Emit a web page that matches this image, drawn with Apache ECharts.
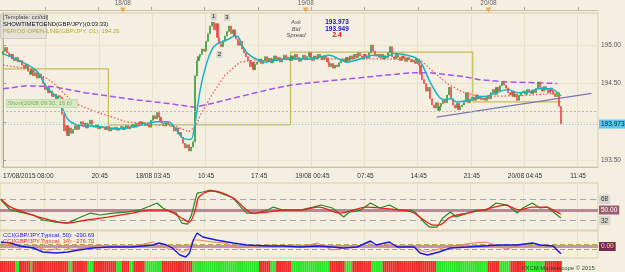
<!DOCTYPE html>
<html><head><meta charset="utf-8">
<script src="https://cdn.jsdelivr.net/npm/echarts@6/dist/echarts.min.js"></script>
<style>html,body{margin:0;padding:0;background:#f4efe1;}#c{width:625px;height:272px;}</style>
</head><body><div id="c"></div>
<script>
// ---------- data ----------
const firstOpen = 194.88;
const closes = [
194.92,194.97,194.90,194.85,194.88,194.82,194.80,194.84,194.78,194.80,194.74,
194.70,194.75,194.66,194.62,194.68,194.60,194.64,194.57,194.62,194.58,
194.50,194.42,194.45,194.38,
194.40,194.33,194.36,194.30,194.34,194.32,
194.10,193.88,193.95,193.82,
193.92,193.85,193.90,
193.95,193.90,193.96,194.00,193.94,193.98,193.92,193.97,194.02,193.95,193.93,193.96,193.91,193.94,193.92,
193.93,193.90,193.94,193.88,193.92,193.90,193.93,193.89,193.91,193.94,193.90,193.92,193.95,193.91,
193.94,193.97,193.93,193.98,193.95,194.00,193.96,193.99,193.95,193.97,193.93,
194.02,194.08,194.04,194.12,194.06,194.00,
193.98,193.95,193.99,193.96,193.97,
193.94,193.88,193.92,193.84,193.86,193.80,
193.72,193.66,193.70,193.62,193.67,193.74,
194.60,194.80,194.85,
194.88,194.95,194.92,195.05,
195.15,195.25,195.30,195.20,195.28,
195.10,195.02,194.98,195.05,195.12,
195.18,195.25,195.15,195.20,195.12,
195.08,195.00,195.05,194.95,194.90,194.85,
194.80,194.72,194.78,194.68,194.75,
194.78,194.82,194.76,194.80,194.85,194.79,194.83,194.77,194.81,194.86,194.80,194.84,194.78,194.82,194.87,194.81,194.84,
194.80,194.86,194.82,194.88,194.84,194.79,194.83,194.87,194.81,194.85,194.90,194.84,194.80,194.86,194.82,194.88,194.85,194.81,194.86,194.83,
194.78,194.72,194.76,194.70,194.74,194.72,194.77,194.80,
194.82,194.78,194.84,194.80,194.86,194.82,194.88,194.84,194.90,194.86,194.82,194.88,194.85,194.83,
194.90,195.00,194.92,194.86,194.88,
194.84,194.88,194.82,194.86,194.84,194.90,
194.98,
194.85,194.82,194.88,194.84,194.80,194.86,194.83,194.79,194.84,194.81,194.78,
194.80,194.76,194.82,194.74,
194.62,194.55,194.50,
194.40,194.45,194.30,194.22,194.18,194.25,194.15,194.20,
194.24,194.28,194.25,194.35,194.45,194.30,
194.22,194.18,194.24,194.16,194.20,
194.22,194.26,194.38,194.25,194.28,
194.32,194.28,194.35,194.30,194.33,194.29,
194.31,194.28,194.33,194.30,
194.38,194.42,194.36,194.45,194.40,194.47,
194.52,194.48,194.44,
194.38,194.35,194.40,194.33,194.36,194.28,194.34,
194.38,194.40,194.36,194.42,194.39,194.37,194.41,194.38,194.43,
194.52,
194.45,194.40,194.46,194.42,194.38,194.44,194.40,194.36,
194.33,194.38,
194.20,
193.973
];
const emaFast = [[0,194.89],[17,194.68],[23,194.45],[29,194.30],[34,194.04],[39,193.96],[49,193.94],[60,193.91],[70,193.94],[81,194.00],[87,194.00],[91,193.91],[95,193.78],[99,193.77],[101,193.96],[104,194.43],[107,194.74],[110,194.94],[113,195.02],[119,195.08],[122,195.12],[124,195.11],[126,195.00],[129,194.89],[134,194.81],[138,194.78],[145,194.81],[152,194.82],[162,194.82],[172,194.87],[177,194.82],[181,194.78],[187,194.81],[195,194.87],[202,194.85],[206,194.89],[216,194.85],[220,194.78],[225,194.52],[229,194.35],[232,194.29],[236,194.30],[239,194.26],[245,194.28],[251,194.33],[254,194.33],[259,194.37],[266,194.42],[271,194.38],[277,194.39],[282,194.43],[289,194.43],[292,194.38],[294,194.34]];
const maSlow = [[0,194.74],[15,194.69],[26,194.52],[35,194.30],[40,194.22],[49,194.13],[65,194.00],[81,193.96],[91,193.94],[98,193.87],[102,193.96],[104,194.09],[110,194.35],[117,194.61],[125,194.78],[134,194.81],[152,194.82],[178,194.82],[199,194.82],[220,194.81],[225,194.69],[234,194.50],[242,194.39],[251,194.33],[272,194.34],[291,194.37]];
const ma200 = [[0,194.43],[12,194.47],[26,194.46],[43,194.38],[69,194.29],[87,194.24],[101,194.19],[110,194.24],[125,194.33],[140,194.42],[152,194.48],[166,194.52],[202,194.61],[216,194.64],[225,194.64],[243,194.59],[251,194.55],[266,194.52],[292,194.50]];
const dayStarts = [-0.5, 55.5, 151.5, 247.5];
const dayOpens = [194.69, 193.96, 194.91, 194.26];
const lastBar = 294;
const rsiFast = [[0,66.8],[5,50],[10,46.6],[17,41.6],[22,33.2],[29,29.8],[35,28.1],[42,38.2],[47,44.9],[52,41.6],[59,44.9],[66,46.6],[73,50],[77,55],[82,61.8],[85,53.4],[89,46.6],[92,44.9],[95,28.1],[98,26.4],[100,41.6],[103,78.6],[106,80.3],[110,83.7],[115,78.6],[122,70.2],[126,55],[129,44.9],[134,44.9],[140,50],[143,55],[148,50],[153,50],[157,50],[164,55],[168,58.4],[174,53.4],[180,38.2],[183,46.6],[189,50],[194,61.8],[199,53.4],[204,58.4],[209,50],[215,50],[218,44.9],[222,29.8],[225,21.4],[229,21.4],[232,36.5],[236,46.6],[239,38.2],[245,44.9],[250,50],[255,50],[260,61.8],[266,58.4],[271,44.9],[274,53.4],[279,61.8],[283,53.4],[287,55],[290,46.6],[294,36.5]];
const rsiSlow = [[0,68.5],[5,55],[12,46.6],[22,36.5],[35,28.1],[45,33.2],[56,38.2],[69,44.9],[78,50],[87,50],[94,38.2],[99,29.8],[102,50],[104,71.9],[110,82],[115,80.3],[122,70.2],[129,50],[132,44.9],[140,46.6],[148,50],[157,50],[167,55],[178,44.9],[192,55],[209,50],[216,46.6],[222,33.2],[227,24.7],[230,24.7],[236,38.2],[245,44.9],[253,50],[265,58.4],[272,50],[279,55],[286,55],[292,46.6],[294,43]];
const rsiLevels = [68, 50, 32];
const cci50 = [[0,180],[5,140],[10,20],[17,-60],[22,-220],[29,-260],[35,-220],[41,-140],[48,-60],[57,-20],[69,-20],[80,60],[83,140],[87,60],[90,-60],[94,-340],[97,-420],[99,-260],[101,260],[103,540],[106,380],[113,260],[122,140],[129,60],[140,20],[148,20],[157,-20],[166,20],[174,-20],[180,-60],[187,-20],[194,220],[197,60],[204,180],[208,-20],[213,-20],[217,-20],[220,-260],[224,-340],[230,-220],[236,-60],[245,-20],[253,20],[262,60],[271,60],[279,140],[283,60],[290,20],[292,-140],[294,-290]];
const cci14 = [[0,140],[3,60],[6,-20],[10,-60],[14,-20],[20,-60],[24,-140],[27,-140],[31,-20],[35,-60],[38,-140],[43,-60],[48,-20],[52,60],[57,-60],[61,20],[66,-60],[69,-20],[73,60],[77,140],[80,180],[83,20],[87,-60],[92,-60],[95,-220],[98,-140],[101,260],[104,260],[111,180],[118,140],[124,-60],[131,-20],[140,60],[146,20],[153,60],[160,20],[166,140],[174,-140],[180,-60],[188,20],[195,180],[199,-20],[204,100],[209,-60],[216,20],[220,-140],[223,-220],[230,-100],[236,20],[241,60],[248,140],[255,180],[258,100],[265,-100],[272,20],[279,140],[286,20],[291,-20],[294,-276]];
const cciLevels = [100, 0, -100];
const stripRuns = [['r',8],['g',2],['r',6],['g',1],['r',9],['r',10],['g',2],['r',8],['g',3],['r',12],['g',3],['r',4],['g',2],['r',6],['g',9],['r',16],['g',35],['r',6],['g',3],['r',8],['g',20],['r',8],['g',4],['r',10],['g',6],['r',28],['g',27],['r',6],['g',6],['r',8],['g',10],['r',9]];
const timeTicks = [[0,'17/08/2015 08:00'],[51,'20:45'],[79,'18/08 03:45'],[107,'10:45'],[135,'17:45'],[163,'19/08 00:45'],[191,'07:45'],[219,'14:45'],[247,'21:45'],[275,'20/08 04:45'],[303,'11:45']];
const dateTicks = [[64,'18/08'],[160,'19/08'],[256,'20/08']];
const priceTicks = [193.5, 194.0, 194.5, 195.0];
const priceLabels = [193.5, 194.5, 195.0];
const waveMarks = [['1',111,195.37],['2',114,194.88],['3',118,195.36]];
const trendLine = [[228.5,194.06],[310,194.37]];
const pendingLevel = 194.14;
const bidLevel = 193.973;
const quote = {ask:'193.973', bid:'193.949', spread:'2.4'};

// ---------- build ----------
const N = 314;
const cats = Array.from({length:N},(_,i)=>String(i));
const ohlc = closes.map((c,i)=>{const o=i?closes[i-1]:firstOpen;return [o,c,Math.min(o,c),Math.max(o,c)];});
const labelMap = {}; timeTicks.forEach(([i,t])=>labelMap[i]=t);
const isMajor = i => i>=23 && (i-23)%28===0;
const RED='#f02a2a', GREEN='#2ae62a';
const stripData=[]; stripRuns.forEach(([c,n])=>{for(let k=0;k<n;k++)stripData.push({value:1,itemStyle:{color:c==='r'?RED:GREEN}});});
const stepData = dayStarts.map((s,k)=>[s,dayOpens[k]]).concat([[lastBar,dayOpens[dayOpens.length-1]]]);
const F = 'Liberation Sans';
const FS = '5.9px ';
const splitCat = (g)=>({gridIndex:g,type:'category',data:cats,axisLine:{show:false},axisTick:{show:false},axisLabel:{show:false},splitLine:{show:true,interval:(i)=>isMajor(i),lineStyle:{color:'#e9e2cb'}}});
const hidVal = (g)=>({gridIndex:g,type:'value',min:-0.5,max:313.5,show:false});

const option = {
  animation:false,
  backgroundColor:'#f4efe1',
  textStyle:{fontFamily:F},
  grid:[
    {left:0,right:27,top:0,height:10,show:false},
    {left:0,right:27,top:13,height:154,show:true,borderColor:'#d8cfa6',borderWidth:1},
    {left:0,right:27,top:183,height:47,show:true,borderColor:'#d8cfa6',borderWidth:1},
    {left:0,right:27,top:231,height:27,show:true,borderColor:'#d8cfa6',borderWidth:1},
    {left:0,right:27,top:261,height:11,show:false}
  ],
  xAxis:[
    {gridIndex:0,type:'category',data:cats,axisLine:{lineStyle:{color:'#c9c1a6'}},axisTick:{show:true,inside:true,length:3,alignWithLabel:true,interval:(i)=>isMajor(i),lineStyle:{color:'#b0a890'}},axisLabel:{show:false}},
    {gridIndex:1,type:'category',data:cats,axisLine:{show:true,lineStyle:{color:'#c9c1a6'}},
      axisTick:{alignWithLabel:true,interval:(i)=>isMajor(i),length:4,lineStyle:{color:'#9a9a9a'}},
      axisLabel:{interval:(i)=>labelMap[i]!==undefined,formatter:(v)=>labelMap[v]||'',fontSize:6.5,color:'#333',margin:6,alignMinLabel:'left'},
      splitLine:{show:true,interval:(i)=>isMajor(i),lineStyle:{color:'#e9e2cb'}}},
    {gridIndex:1,type:'category',data:cats,axisLine:{show:false},axisTick:{alignWithLabel:true,interval:(i)=>i%7===2,length:2,lineStyle:{color:'#9a9a9a'}},axisLabel:{show:false}},
    hidVal(1), hidVal(2), splitCat(2), hidVal(3), splitCat(3),
    {gridIndex:4,type:'category',data:cats,show:false}
  ],
  yAxis:[
    {gridIndex:0,type:'value',min:0,max:1,show:false},
    {gridIndex:1,type:'value',position:'right',min:193.41,max:195.42,
      axisLine:{show:true,lineStyle:{color:'#a8a8a8'}},
      axisTick:{show:true,customValues:priceTicks,length:3,lineStyle:{color:'#999'}},
      axisLabel:{customValues:priceLabels,formatter:(v)=>v.toFixed(2),fontSize:6.5,color:'#555',margin:3},
      splitLine:{show:true,lineStyle:{color:'#ebe4cd'}}},
    {gridIndex:2,type:'value',position:'right',min:16.4,max:95.5,show:false},
    {gridIndex:3,type:'value',position:'right',min:-460,max:620,show:false},
    {gridIndex:4,type:'value',min:0,max:1,show:false}
  ],
  series:[
    {type:'scatter',xAxisIndex:0,yAxisIndex:0,data:dateTicks.map(([i,t])=>({value:[i,0],name:t})),symbol:'triangle',symbolRotate:180,symbolSize:[6,5],itemStyle:{color:'#f0a030'},label:{show:true,position:'top',distance:1,formatter:'{b}',fontSize:6.5,color:'#444'}},
    {type:'line',xAxisIndex:3,yAxisIndex:1,data:stepData,step:'end',symbol:'none',lineStyle:{color:'#c5bc55',width:1.2},z:2},
    {type:'line',xAxisIndex:3,yAxisIndex:1,data:ma200,symbol:'none',lineStyle:{color:'#a454f0',width:1.5,type:[6,3]},z:2},
    {type:'line',xAxisIndex:3,yAxisIndex:1,data:maSlow,symbol:'none',lineStyle:{color:'#f04c4c',width:1.2,type:[1.5,2]},z:2},
    {type:'candlestick',xAxisIndex:1,yAxisIndex:1,data:ohlc,barWidth:1.6,z:3,
      itemStyle:{color:'#3c9c3c',color0:'#f04848',borderColor:'#3c9c3c',borderColor0:'#f04848',borderWidth:0.7},
      markLine:{silent:true,symbol:'none',data:[
        {yAxis:pendingLevel,lineStyle:{type:[2,2],color:'#bfb7a2',width:1},label:{show:false}},
        {yAxis:bidLevel,lineStyle:{type:[1,2],color:'#80c8e4',width:1},label:{show:true,position:'end',distance:1,formatter:'193.973',backgroundColor:'#5cc6f2',color:'#1a1a1a',fontSize:6.5,padding:[1,2]}}
      ]},
      markPoint:{symbol:'rect',symbolSize:[6,7],itemStyle:{color:'#d6d4cc'},label:{show:true,fontSize:6,color:'#222',formatter:'{b}'},
        data:waveMarks.map(([t,i,p])=>({name:t,coord:[String(i),p]})).concat([{name:'',coord:['292',194.37],symbol:'triangle',symbolSize:5,itemStyle:{color:'#5cc030'},label:{show:false}}])}},
    {type:'line',xAxisIndex:3,yAxisIndex:1,data:emaFast,symbol:'none',smooth:0.3,lineStyle:{color:'#18b4c4',width:1.5},z:4},
    {type:'line',xAxisIndex:3,yAxisIndex:1,data:trendLine,symbol:'none',lineStyle:{color:'#7878b4',width:1.2},z:4},
    {type:'line',xAxisIndex:4,yAxisIndex:2,data:rsiFast,symbol:'none',lineStyle:{color:'#228a22',width:1.2},z:4},
    {type:'line',xAxisIndex:4,yAxisIndex:2,data:rsiSlow,symbol:'none',smooth:0.3,lineStyle:{color:'#f01c1c',width:1.3},z:5,
      markLine:{silent:true,symbol:'none',z:2,data:[
        {yAxis:rsiLevels[0],lineStyle:{type:[6,4],color:'#a6a6a6',width:1},label:{position:'end',distance:1,formatter:'68',fontSize:6.5,color:'#333',backgroundColor:'#d8d6d0',padding:[1,2]}},
        {yAxis:rsiLevels[1],lineStyle:{type:'solid',color:'#b88898',width:3},label:{position:'end',distance:1,formatter:'50.00',fontSize:6.5,color:'#fff',backgroundColor:'#9c5c74',padding:[1,2]}},
        {yAxis:rsiLevels[2],lineStyle:{type:[6,4],color:'#a6a6a6',width:1},label:{position:'end',distance:1,formatter:'32',fontSize:6.5,color:'#333',backgroundColor:'#d8d6d0',padding:[1,2]}}
      ]}},
    {type:'line',xAxisIndex:6,yAxisIndex:3,data:cci14,symbol:'none',lineStyle:{color:'#f07a6a',width:1},z:4,
      markLine:{silent:true,symbol:'none',z:2,data:[
        {yAxis:cciLevels[0],lineStyle:{type:[5,3],color:'#b4a84a',width:1},label:{show:false}},
        {yAxis:cciLevels[1],lineStyle:{type:'solid',color:'#c098a8',width:3},label:{position:'end',distance:1,formatter:'0.00',fontSize:6.5,color:'#f4e060',backgroundColor:'#7a2858',padding:[1,2]}},
        {yAxis:cciLevels[2],lineStyle:{type:[5,3],color:'#b4a84a',width:1},label:{show:false}}
      ]}},
    {type:'line',xAxisIndex:6,yAxisIndex:3,data:cci50,symbol:'none',lineStyle:{color:'#1a1ae6',width:1.4},z:5},
    {type:'bar',xAxisIndex:8,yAxisIndex:4,data:stripData,barCategoryGap:'0%',barWidth:'100%'}
  ],
  graphic:[
    {type:'rect',left:0,top:14,shape:{width:46,height:24},style:{fill:'rgba(222,220,214,0.75)',stroke:'#cfcbc0'},z:10},
    {type:'text',left:3,top:14,style:{text:'[Template: cci/tdi]',font:FS+F,fill:'#404040'},z:11},
    {type:'text',left:3,top:21,style:{text:'SHOWTIMETOEND(GBP/JPY)(0:03:33)',font:FS+F,fill:'#111'},z:11},
    {type:'text',left:3,top:28,style:{text:'PERIOD-OPEN-LINE(GBP/JPY, D1): 194.26',font:FS+F,fill:'#b5ad3a'},z:11},
    {type:'text',x:296,y:19,style:{text:'Ask',font:'italic '+FS+F,fill:'#505050',textAlign:'center'},z:11},
    {type:'text',x:296,y:26,style:{text:'Bid',font:'italic '+FS+F,fill:'#505050',textAlign:'center'},z:11},
    {type:'text',x:296,y:32,style:{text:'Spread',font:'italic '+FS+F,fill:'#505050',textAlign:'center'},z:11},
    {type:'text',x:337,y:19,style:{text:quote.ask,font:'bold 6.5px '+F,fill:'#1414d0',textAlign:'center'},z:11},
    {type:'text',x:337,y:26,style:{text:quote.bid,font:'bold 6.5px '+F,fill:'#1414d0',textAlign:'center'},z:11},
    {type:'text',x:337,y:32,style:{text:quote.spread,font:'bold 6.5px '+F,fill:'#e01010',textAlign:'center'},z:11},
    {type:'rect',left:6,top:99,shape:{width:71,height:8},style:{fill:'#d6eac0',stroke:'#c8e0b0'},z:10},
    {type:'text',left:8,top:100,style:{text:'Short(20/08 09:30, 16.6)',font:FS+F,fill:'#8aa26e'},z:11},
    {type:'text',left:3,top:232,style:{text:'CCI(GBP/JPY,Typical, 50): -290.69',font:FS+F,fill:'#1a1ae6'},z:11},
    {type:'text',left:3,top:238,style:{text:'CCI(GBP/JPY,Typical, 14): -276.70',font:FS+F,fill:'#e83030'},z:11},
    {type:'text',left:522,top:265,style:{text:'FXCM Marketscope \u00a9 2015',font:FS+F,fill:'#205020'},z:11}
  ]
};
echarts.init(document.getElementById('c')).setOption(option);
</script></body></html>
